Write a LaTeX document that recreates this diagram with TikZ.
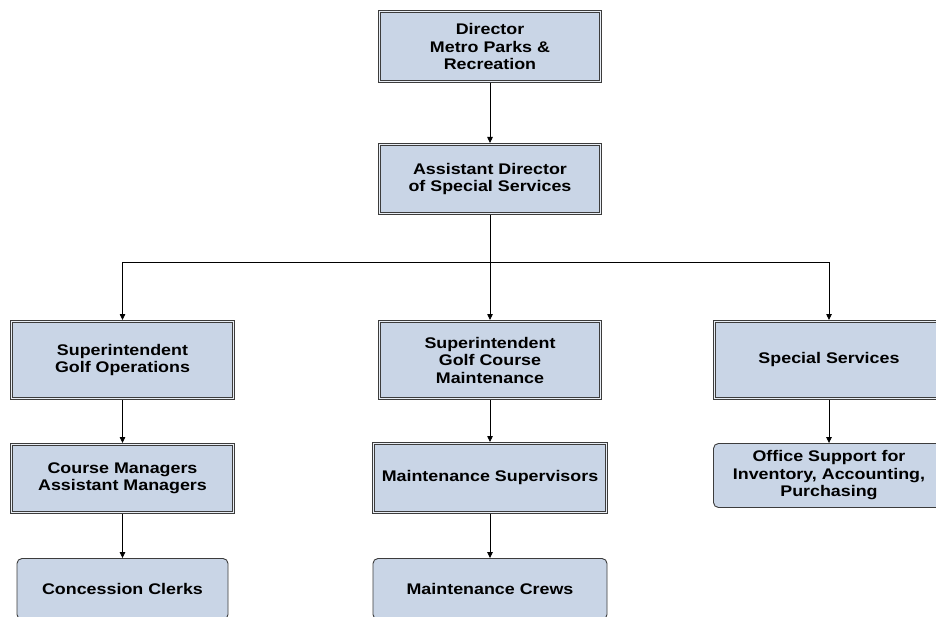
\documentclass[tikz,border=0pt]{standalone}
\usepackage{fontspec}
\newfontfamily\boxfont[FakeStretch=1.16]{Liberation Sans}
\usetikzlibrary{arrows.meta}
\definecolor{boxfill}{RGB}{201,213,230}
\definecolor{edge}{RGB}{60,60,60}
\tikzset{
  x=1pt, y=-1pt,
  orgtext/.style={font=\boxfont\bfseries\fontsize{15.4}{17.5}\selectfont, align=center, text=black},
  dbox/.style={orgtext, rectangle, fill=boxfill, draw=edge, line width=0.8pt,
    double=white!60!boxfill, double distance=1.2pt, inner sep=0pt, outer sep=1.4pt},
  rbox/.style={orgtext, rectangle, rounded corners=5pt, fill=boxfill, draw=edge,
    line width=0.9pt, inner sep=0pt, outer sep=0.45pt},
  link/.style={draw=black, line width=0.8pt},
  arr/.style={link, -{Triangle[width=5.5pt,length=6pt]}}
}
\begin{document}
\begin{tikzpicture}
\useasboundingbox (0,0) rectangle (936,617);
\clip (0,0) rectangle (936,617);
\fill[white] (0,0) rectangle (936,617);

\node[dbox, minimum width=221.2pt, minimum height=70.2pt] (dir) at (490,46.5) {Director\\Metro Parks \&\\Recreation};
\node[dbox, minimum width=221.2pt, minimum height=69.2pt] (asst) at (490,179) {Assistant Director\\of Special Services};

\node[dbox, minimum width=222.2pt, minimum height=77.2pt] (ops) at (122.5,360) {Superintendent\\Golf Operations};
\node[dbox, minimum width=221.2pt, minimum height=77.2pt] (maint) at (490,360) {Superintendent\\Golf Course\\Maintenance};
\node[dbox, minimum width=229.2pt, minimum height=77.2pt] (spec) at (829,360) {Special Services};

\node[dbox, minimum width=222.2pt, minimum height=68.2pt] (cm) at (122.5,478.5) {Course Managers\\Assistant Managers};
\node[dbox, minimum width=233.2pt, minimum height=69.2pt] (ms) at (490,478) {Maintenance Supervisors};
\node[rbox, minimum width=231pt, minimum height=64pt] (office) at (829,475.5) {Office Support for\\Inventory, Accounting,\\Purchasing};

\node[rbox, minimum width=211pt, minimum height=61pt] (cc) at (122.5,589) {Concession Clerks};
\node[rbox, minimum width=234pt, minimum height=61pt] (mc) at (490,589) {Maintenance Crews};

\coordinate (bus) at (490,262);

\draw[arr] (dir.south) -- (asst.north);
\draw[link] (asst.south) -- (bus);
\draw[arr] (bus) -| (ops.north);
\draw[arr] (bus) -| (spec.north);
\draw[arr] (bus) -- (maint.north);

\draw[arr] (ops.south) -- (cm.north);
\draw[arr] (cm.south) -- (cc.north);
\draw[arr] (maint.south) -- (ms.north);
\draw[arr] (ms.south) -- (mc.north);
\draw[arr] (spec.south) -- (office.north);
\end{tikzpicture}
\end{document}
